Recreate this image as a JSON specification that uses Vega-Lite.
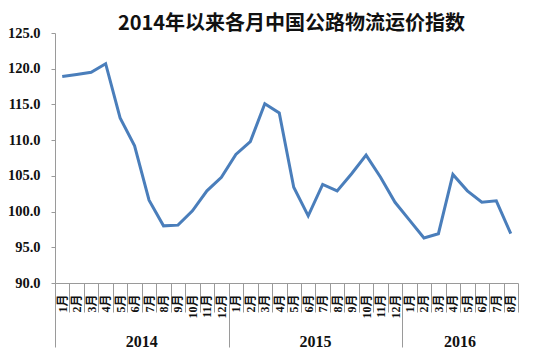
{
  "$schema": "https://vega.github.io/schema/vega-lite/v6.json",
  "autosize": "none",
  "width": 463,
  "height": 250,
  "padding": {"left": 55, "top": 33, "right": 32, "bottom": 80},
  "background": "white",
  "title": {
    "text": "2014年以来各月中国公路物流运价指数",
    "font": "Noto Sans CJK SC",
    "fontSize": 20,
    "fontWeight": "bold",
    "color": "#111",
    "anchor": "middle",
    "offset": -9,
    "dx": 5
  },
  "config": {
    "view": {"stroke": null},
    "axis": {"grid": false}
  },
  "data": {
    "values": [
      {"month": "2014年1月", "index": 118.9},
      {"month": "2014年2月", "index": 119.2},
      {"month": "2014年3月", "index": 119.5},
      {"month": "2014年4月", "index": 120.7},
      {"month": "2014年5月", "index": 113.1},
      {"month": "2014年6月", "index": 109.2},
      {"month": "2014年7月", "index": 101.6},
      {"month": "2014年8月", "index": 98.0},
      {"month": "2014年9月", "index": 98.1},
      {"month": "2014年10月", "index": 100.1},
      {"month": "2014年11月", "index": 102.9},
      {"month": "2014年12月", "index": 104.8},
      {"month": "2015年1月", "index": 108.0},
      {"month": "2015年2月", "index": 109.8},
      {"month": "2015年3月", "index": 115.1},
      {"month": "2015年4月", "index": 113.8},
      {"month": "2015年5月", "index": 103.4},
      {"month": "2015年6月", "index": 99.4},
      {"month": "2015年7月", "index": 103.8},
      {"month": "2015年8月", "index": 102.9},
      {"month": "2015年9月", "index": 105.3},
      {"month": "2015年10月", "index": 107.9},
      {"month": "2015年11月", "index": 104.8},
      {"month": "2015年12月", "index": 101.3},
      {"month": "2016年1月", "index": 98.8},
      {"month": "2016年2月", "index": 96.3},
      {"month": "2016年3月", "index": 96.9},
      {"month": "2016年4月", "index": 105.2},
      {"month": "2016年5月", "index": 102.9},
      {"month": "2016年6月", "index": 101.3},
      {"month": "2016年7月", "index": 101.5},
      {"month": "2016年8月", "index": 96.9}
    ]
  },
  "layer": [
    {
      "mark": {"type": "line", "color": "#4a7ebb", "strokeWidth": 3, "strokeJoin": "miter"},
      "encoding": {
        "x": {
          "field": "month",
          "type": "ordinal",
          "sort": null,
          "bandPosition": 0.5,
          "scale": {"type": "band", "paddingInner": 0, "paddingOuter": 0},
          "axis": {
            "orient": "bottom",
            "title": null,
            "domain": true,
            "domainColor": "#9a9a9a",
            "ticks": true,
            "tickBand": "extent",
            "tickSize": 29,
            "tickColor": "#9a9a9a",
            "labelAngle": -90,
            "labelAlign": "right",
            "labelBaseline": "middle",
            "labelPadding": -18,
            "labelFont": "Liberation Serif, Noto Sans CJK SC",
            "labelFontWeight": "bold",
            "labelFontSize": 12,
            "labelColor": "#111",
            "labelOverlap": false,
            "labelExpr": "split(datum.value, '年')[1]"
          }
        },
        "y": {
          "field": "index",
          "type": "quantitative",
          "scale": {"domain": [90, 125], "nice": false, "zero": false},
          "axis": {
            "title": null,
            "values": [90, 95, 100, 105, 110, 115, 120, 125],
            "format": ".1f",
            "labelOverlap": false,
            "domainColor": "#9a9a9a",
            "tickColor": "#9a9a9a",
            "tickSize": 4,
            "labelPadding": 11,
            "labelFont": "Liberation Serif",
            "labelFontWeight": "bold",
            "labelFontSize": 14.5,
            "labelColor": "#111"
          }
        }
      }
    },
    {
      "mark": {"type": "point", "opacity": 0},
      "encoding": {
        "x": {
          "field": "month",
          "type": "ordinal",
          "sort": null,
          "scale": {"type": "band", "paddingInner": 0, "paddingOuter": 0},
          "axis": {
            "orient": "bottom",
            "title": null,
            "domain": false,
            "labels": false,
            "ticks": true,
            "values": ["2014年1月", "2015年1月", "2016年1月"],
            "tickBand": "center",
            "tickOffset": -7.23,
            "tickSize": 64,
            "tickColor": "#9a9a9a"
          }
        }
      }
    },
    {
      "mark": {"type": "point", "opacity": 0},
      "encoding": {
        "x": {
          "field": "month",
          "type": "ordinal",
          "sort": null,
          "scale": {"type": "band", "paddingInner": 0, "paddingOuter": 0},
          "axis": {
            "orient": "bottom",
            "title": null,
            "domain": false,
            "ticks": false,
            "values": ["2014年6月", "2015年6月", "2016年4月"],
            "labelOffset": 7.23,
            "labelAngle": 0,
            "labelAlign": "center",
            "labelBaseline": "top",
            "labelPadding": 50,
            "labelFont": "Liberation Serif",
            "labelFontWeight": "bold",
            "labelFontSize": 16,
            "labelColor": "#111",
            "labelExpr": "split(datum.value, '年')[0]"
          }
        }
      }
    }
  ],
  "resolve": {"axis": {"x": "independent"}}
}
